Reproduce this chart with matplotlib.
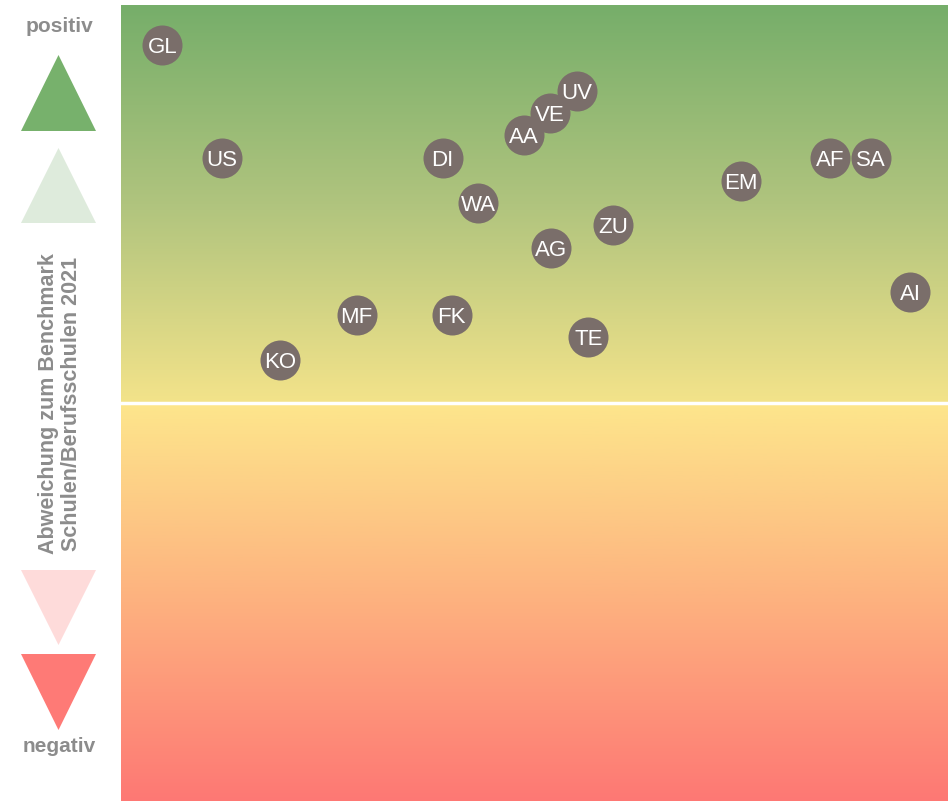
import numpy as np
import matplotlib.pyplot as plt
from matplotlib.colors import LinearSegmentedColormap
from matplotlib.patches import Polygon

# school codes and their position (x: 0-100, y: deviation -100..100)
labels = ['GL', 'US', 'DI', 'WA', 'AA', 'VE', 'UV', 'AG', 'ZU', 'TE',
          'EM', 'AF', 'SA', 'AI', 'MF', 'FK', 'KO']
x_vals = [5.0, 12.2, 38.9, 43.2, 48.7, 51.9, 55.1, 52.0, 59.5, 56.5,
          75.0, 85.7, 90.7, 95.4, 28.5, 40.0, 19.2]
y_vals = [89.9, 61.6, 61.6, 50.3, 67.3, 72.9, 78.4, 38.9, 44.7, 16.6,
          55.8, 61.6, 61.6, 27.9, 22.1, 22.1, 10.8]

W, H = 948, 801
fig = plt.figure(figsize=(W / 100, H / 100), dpi=100)
plt.rcParams['font.family'] = ['Liberation Sans', 'DejaVu Sans']

# main panel
ax = fig.add_axes([121 / W, 0, (W - 121) / W, 796 / H])
top_cmap = LinearSegmentedColormap.from_list('top', ['#f3e38a', '#b0c47e', '#76ae6a'])
bot_cmap = LinearSegmentedColormap.from_list('bot', ['#fe7874', '#fdb17f', '#fde68c'])
grad = np.linspace(0, 1, 256).reshape(-1, 1)
ax.imshow(grad, cmap=top_cmap, extent=[0, 100, 0, 100], origin='lower', aspect='auto')
ax.imshow(grad, cmap=bot_cmap, extent=[0, 100, -100, 0], origin='lower', aspect='auto')
ax.axhline(0, color='white', lw=2.5)

ax.scatter(x_vals, y_vals, s=830, color='#7a6e6a', zorder=3, linewidths=0)
for lab, x, y in zip(labels, x_vals, y_vals):
    ax.text(x, y, lab, color='white', fontsize=16, ha='center', va='center_baseline', zorder=4)

ax.set_xlim(0, 100)
ax.set_ylim(-100, 100)
ax.axis('off')

# left legend panel (pixel coordinates)
lx = fig.add_axes([0, 0, 121 / W, 1])
lx.set_xlim(0, 121)
lx.set_ylim(H, 0)
lx.axis('off')
gray = '#8c8c8c'
lx.text(59, 26, 'positiv', color=gray, fontsize=15, fontweight='bold', ha='center', va='center')
lx.text(59, 747, 'negativ', color=gray, fontsize=15, fontweight='bold', ha='center', va='center')
lx.add_patch(Polygon([[21, 131], [96, 131], [58.5, 55]], color='#77b16c', lw=0))
lx.add_patch(Polygon([[21, 223], [96, 223], [58.5, 148]], color='#deebdc', lw=0))
lx.add_patch(Polygon([[21, 570], [96, 570], [58.5, 645]], color='#fedbda', lw=0))
lx.add_patch(Polygon([[21, 654], [96, 654], [58.5, 730]], color='#fe7a76', lw=0))
lx.text(60, 404, 'Abweichung zum Benchmark\nSchulen/Berufsschulen 2021', color=gray,
        fontsize=15.5, fontweight='bold', rotation=90, ha='center', va='center',
        linespacing=1.1)

fig.savefig('out.png', dpi=100)
